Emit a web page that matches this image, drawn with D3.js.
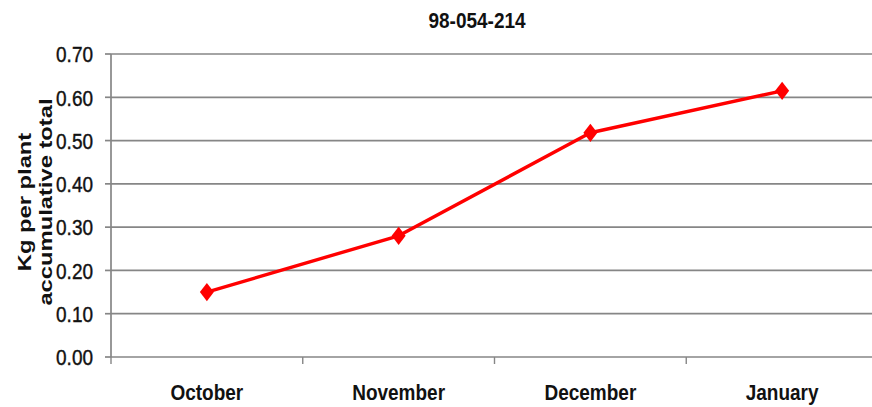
<!DOCTYPE html>
<html>
<head>
<meta charset="utf-8">
<script src="https://cdn.jsdelivr.net/npm/d3@7/dist/d3.min.js"></script>
<style>
  html, body { margin: 0; padding: 0; background: #ffffff; }
  svg { display: block; }
  text { font-family: "Liberation Sans", Arial, sans-serif; fill: #111; }
</style>
</head>
<body>
<svg id="chart" width="872" height="407"></svg>
<script>
// Accumulated yield per plant by month
const chartTitle = "98-054-214";
const months = ["October", "November", "December", "January"];
const kgPerPlant = [0.15, 0.28, 0.518, 0.615];
const yTicks = [0, 0.1, 0.2, 0.3, 0.4, 0.5, 0.6, 0.7];
const yTitleLines = ["Kg per plant", "accumulative total"];

const W = 872, H = 407;
const plot = { left: 111, right: 878, top: 54, bottom: 357 };
const stretch = 1.2; // glyphs drawn slightly taller than wide

const svg = d3.select("#chart");

const x = d3.scaleBand().domain(months).range([plot.left, plot.right]).padding(0);
const y = d3.scaleLinear().domain([0, 0.7]).range([plot.bottom, plot.top]);

const gridColor = "#868686";

// horizontal gridlines
svg.append("g")
  .selectAll("line")
  .data(yTicks)
  .join("line")
  .attr("x1", plot.left).attr("x2", W)
  .attr("y1", d => y(d)).attr("y2", d => y(d))
  .attr("stroke", gridColor).attr("stroke-width", 1.7);

// y axis line and ticks
svg.append("line")
  .attr("x1", plot.left).attr("x2", plot.left)
  .attr("y1", plot.top).attr("y2", plot.bottom)
  .attr("stroke", gridColor).attr("stroke-width", 1.7);

svg.append("g")
  .selectAll("line")
  .data(yTicks)
  .join("line")
  .attr("x1", plot.left - 6).attr("x2", plot.left)
  .attr("y1", d => y(d)).attr("y2", d => y(d))
  .attr("stroke", gridColor).attr("stroke-width", 1.7);

// y tick labels
svg.append("g")
  .selectAll("text")
  .data(yTicks)
  .join("text")
  .attr("transform", d => `translate(93,${y(d)}) scale(1,${stretch})`)
  .attr("text-anchor", "end")
  .attr("dy", "0.36em")
  .style("font-size", "19px")
  .style("stroke", "#111").style("stroke-width", 0.35)
  .text(d => d3.format(".2f")(d));

// x axis category boundary ticks
const boundaries = months.map(m => x(m)).concat([x(months[months.length - 1]) + x.bandwidth()]);
svg.append("g")
  .selectAll("line")
  .data(boundaries)
  .join("line")
  .attr("x1", d => d).attr("x2", d => d)
  .attr("y1", plot.bottom).attr("y2", plot.bottom + 7)
  .attr("stroke", gridColor).attr("stroke-width", 1.4);

// category labels
svg.append("g")
  .selectAll("text")
  .data(months)
  .join("text")
  .attr("transform", d => `translate(${x(d) + x.bandwidth() / 2},400) scale(1,${stretch})`)
  .attr("text-anchor", "middle")
  .style("font-size", "19px")
  .style("font-weight", "bold")
  .text(d => d);

// title
svg.append("text")
  .attr("transform", `translate(477,28) scale(1,${stretch})`)
  .attr("text-anchor", "middle")
  .style("font-size", "19px")
  .style("font-weight", "bold")
  .text(chartTitle);

// y axis title, two rotated lines
svg.append("g")
  .selectAll("text")
  .data(yTitleLines)
  .join("text")
  .attr("transform", (d, i) => `translate(${[31, 52][i]},202) rotate(-90) scale(${stretch + 0.05},1)`)
  .attr("text-anchor", "middle")
  .style("font-size", "19px")
  .style("font-weight", "bold")
  .text(d => d);

// series line
const pts = months.map((m, i) => ({ m, v: kgPerPlant[i] }));
const cx = d => x(d.m) + x.bandwidth() / 2;

svg.append("path")
  .datum(pts)
  .attr("fill", "none")
  .attr("stroke", "#ff0000")
  .attr("stroke-width", 3.4)
  .attr("stroke-linejoin", "round")
  .attr("d", d3.line().x(cx).y(d => y(d.v)));

// diamond markers
const diamond = {
  draw(ctx, size) {
    const w = Math.sqrt(size) / 2, h = w * 1.3;
    ctx.moveTo(0, -h); ctx.lineTo(w, 0); ctx.lineTo(0, h); ctx.lineTo(-w, 0); ctx.closePath();
  }
};
svg.append("g")
  .selectAll("path")
  .data(pts)
  .join("path")
  .attr("transform", d => `translate(${cx(d)},${y(d.v)})`)
  .attr("fill", "#ff0000")
  .attr("d", d3.symbol(diamond, 196));
</script>
</body>
</html>
